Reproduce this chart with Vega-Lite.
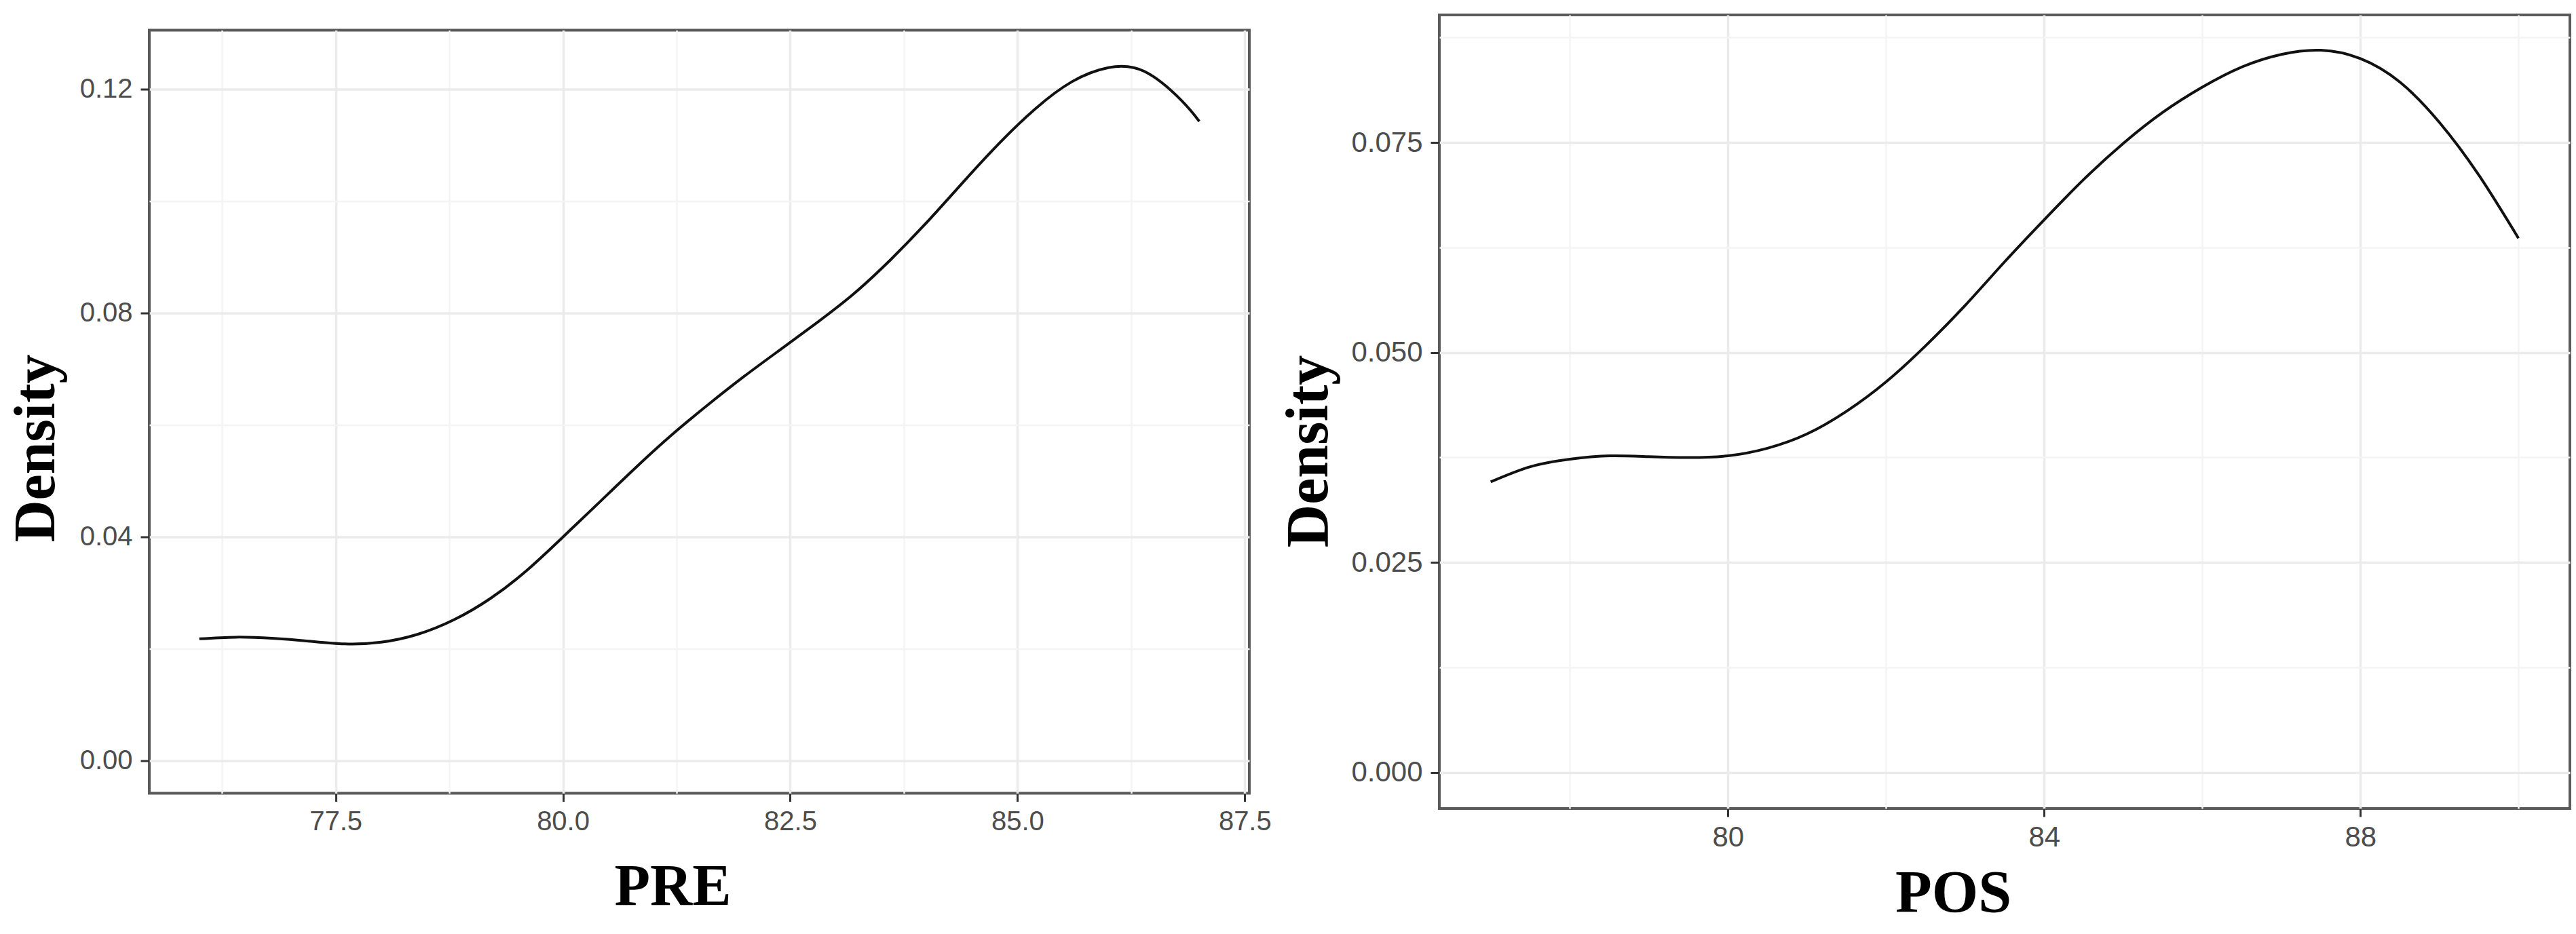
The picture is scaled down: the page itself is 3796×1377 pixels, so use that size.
{
  "$schema": "https://vega.github.io/schema/vega-lite/v6.json",
  "background": "white",
  "padding": {"left": 8, "top": 20, "right": 5, "bottom": 5},
  "datasets": {
    "pre": [
      {"score": 76.0, "density": 0.0218},
      {"score": 76.4, "density": 0.0221},
      {"score": 76.8, "density": 0.0219},
      {"score": 77.2, "density": 0.0214},
      {"score": 77.6, "density": 0.0209},
      {"score": 78.0, "density": 0.0212},
      {"score": 78.4, "density": 0.0226},
      {"score": 78.8, "density": 0.0252},
      {"score": 79.2, "density": 0.0290},
      {"score": 79.6, "density": 0.0340},
      {"score": 80.0, "density": 0.0400},
      {"score": 80.4, "density": 0.0462},
      {"score": 80.8, "density": 0.0524},
      {"score": 81.2, "density": 0.0583},
      {"score": 81.6, "density": 0.0637},
      {"score": 82.0, "density": 0.0688},
      {"score": 82.4, "density": 0.0736},
      {"score": 82.8, "density": 0.0784},
      {"score": 83.2, "density": 0.0835},
      {"score": 83.6, "density": 0.0895},
      {"score": 84.0, "density": 0.0962},
      {"score": 84.4, "density": 0.1034},
      {"score": 84.8, "density": 0.1104},
      {"score": 85.2, "density": 0.1166},
      {"score": 85.6, "density": 0.1214},
      {"score": 86.0, "density": 0.1239},
      {"score": 86.4, "density": 0.1232},
      {"score": 86.8, "density": 0.1181},
      {"score": 87.0, "density": 0.1143}
    ],
    "pos": [
      {"score": 77.0, "density": 0.0346},
      {"score": 77.5, "density": 0.0364},
      {"score": 78.0, "density": 0.0373},
      {"score": 78.5, "density": 0.0377},
      {"score": 79.0, "density": 0.0376},
      {"score": 79.5, "density": 0.0375},
      {"score": 80.0, "density": 0.0377},
      {"score": 80.5, "density": 0.0386},
      {"score": 81.0, "density": 0.0403},
      {"score": 81.5, "density": 0.0430},
      {"score": 82.0, "density": 0.0465},
      {"score": 82.5, "density": 0.0508},
      {"score": 83.0, "density": 0.0556},
      {"score": 83.5, "density": 0.0608},
      {"score": 84.0, "density": 0.0658},
      {"score": 84.5, "density": 0.0706},
      {"score": 85.0, "density": 0.0749},
      {"score": 85.5, "density": 0.0786},
      {"score": 86.0, "density": 0.0816},
      {"score": 86.5, "density": 0.0840},
      {"score": 87.0, "density": 0.0855},
      {"score": 87.5, "density": 0.0860},
      {"score": 88.0, "density": 0.0850},
      {"score": 88.5, "density": 0.0822},
      {"score": 89.0, "density": 0.0774},
      {"score": 89.5, "density": 0.0711},
      {"score": 90.0, "density": 0.0636}
    ]
  },
  "spacing": 280,
  "bounds": "flush",
  "center": true,
  "hconcat": [
    {
      "width": 1621,
      "height": 1125,
      "data": {"name": "pre"},
      "mark": {"type": "line", "color": "#111111", "strokeWidth": 4, "interpolate": "natural"},
      "encoding": {
        "x": {
          "field": "score", "type": "quantitative",
          "scale": {"domain": [75.45, 87.55], "nice": false, "zero": false},
          "axis": {
            "title": "PRE",
            "values": [76.25, 77.5, 78.75, 80, 81.25, 82.5, 83.75, 85, 86.25, 87.5],
            "format": ".1f",
            "labelExpr": "datum.value % 2.5 == 0 ? datum.label : ''",
            "gridColor": {"condition": {"test": "datum.value % 2.5 == 0", "value": "#ebebeb"}, "value": "#f4f4f4"},
            "gridWidth": {"condition": {"test": "datum.value % 2.5 == 0", "value": 3.5}, "value": 2.5},
            "tickOpacity": {"condition": {"test": "datum.value % 2.5 == 0", "value": 1}, "value": 0},
            "labelFontSize": 40, "tickSize": 12, "labelPadding": 10,
            "titleFontSize": 86, "titleX": 771, "titleY": 163.5
          }
        },
        "y": {
          "field": "density", "type": "quantitative",
          "scale": {"domain": [-0.0058, 0.1306], "nice": false, "zero": false},
          "axis": {
            "title": "Density",
            "values": [0, 0.02, 0.04, 0.06, 0.08, 0.1, 0.12],
            "format": ".2f",
            "labelExpr": "round(datum.value * 100) % 4 == 0 ? datum.label : ''",
            "gridColor": {"condition": {"test": "round(datum.value * 100) % 4 == 0", "value": "#ebebeb"}, "value": "#f4f4f4"},
            "gridWidth": {"condition": {"test": "round(datum.value * 100) % 4 == 0", "value": 3.5}, "value": 2.5},
            "tickOpacity": {"condition": {"test": "round(datum.value * 100) % 4 == 0", "value": 1}, "value": 0},
            "labelFontSize": 40, "tickSize": 13, "labelPadding": 12,
            "titleFontSize": 86, "titleAngle": -90, "titleX": -141, "titleY": 616
          }
        }
      }
    },
    {
      "width": 1666,
      "height": 1170,
      "data": {"name": "pos"},
      "mark": {"type": "line", "color": "#111111", "strokeWidth": 4, "interpolate": "natural"},
      "encoding": {
        "x": {
          "field": "score", "type": "quantitative",
          "scale": {"domain": [76.35, 90.65], "nice": false, "zero": false},
          "axis": {
            "title": "POS",
            "values": [78, 80, 82, 84, 86, 88, 90],
            "format": "d",
            "labelExpr": "datum.value % 4 == 0 ? datum.label : ''",
            "gridColor": {"condition": {"test": "datum.value % 4 == 0", "value": "#ebebeb"}, "value": "#f4f4f4"},
            "gridWidth": {"condition": {"test": "datum.value % 4 == 0", "value": 3.5}, "value": 2.5},
            "tickOpacity": {"condition": {"test": "datum.value % 4 == 0", "value": 1}, "value": 0},
            "labelFontSize": 42, "tickSize": 12, "labelPadding": 10,
            "titleFontSize": 88, "titleX": 757, "titleY": 151
          }
        },
        "y": {
          "field": "density", "type": "quantitative",
          "scale": {"domain": [-0.0043, 0.0902], "nice": false, "zero": false},
          "axis": {
            "title": "Density",
            "values": [0, 0.0125, 0.025, 0.0375, 0.05, 0.0625, 0.075, 0.0875],
            "format": ".3f",
            "labelExpr": "round(datum.value * 10000) % 250 == 0 ? datum.label : ''",
            "gridColor": {"condition": {"test": "round(datum.value * 10000) % 250 == 0", "value": "#ebebeb"}, "value": "#f4f4f4"},
            "gridWidth": {"condition": {"test": "round(datum.value * 10000) % 250 == 0", "value": 3.5}, "value": 2.5},
            "tickOpacity": {"condition": {"test": "round(datum.value * 10000) % 250 == 0", "value": 1}, "value": 0},
            "labelFontSize": 42, "tickSize": 13, "labelPadding": 12,
            "titleFontSize": 88, "titleAngle": -90, "titleX": -166, "titleY": 643
          }
        }
      }
    }
  ],
  "config": {
    "view": {"stroke": "#5a5a5a", "strokeWidth": 4},
    "axis": {
      "domain": false,
      "labelFont": "Liberation Sans",
      "labelColor": "#4d4d4d",
      "tickColor": "#333333",
      "tickWidth": 3,
      "labelOverlap": false,
      "labelFlush": false,
      "titleFont": "Liberation Serif",
      "titleFontWeight": "bold",
      "titleColor": "#000000",
      "titleBaseline": "alphabetic",
      "titleAlign": "center"
    }
  }
}
